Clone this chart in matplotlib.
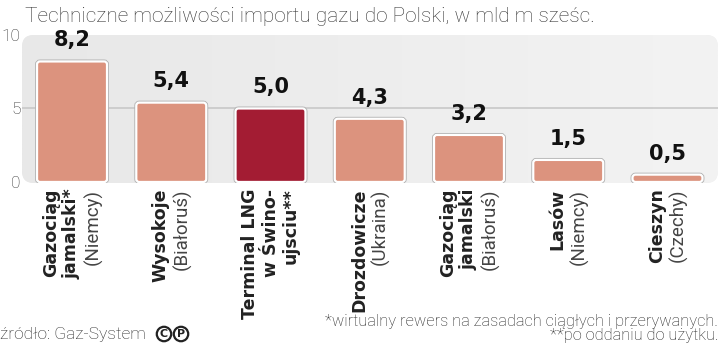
import matplotlib
matplotlib.use("Agg")
import matplotlib.pyplot as plt
import numpy as np
from matplotlib.patches import FancyBboxPatch

# dane
bold_names = ["Gazociąg\njamalski*", "Wysokoje", "Terminal LNG\nw Świno-\nujsciu**",
              "Drozdowicze", "Gazociąg\njamalski", "Lasów", "Cieszyn"]
countries = ["(Niemcy)", "(Białoruś)", "", "(Ukraina)", "(Białoruś)", "(Niemcy)", "(Czechy)"]
values = [8.2, 5.4, 5.0, 4.3, 3.2, 1.5, 0.5]
value_labels = ["8,2", "5,4", "5,0", "4,3", "3,2", "1,5", "0,5"]
highlight = 2
yticks = [0, 5, 10]

light_font = "Roboto"
bold_font = "DejaVu Sans"

fig = plt.figure(figsize=(7.2, 3.47), dpi=100)
ax = fig.add_axes([22/720, 1 - 183/347, 696/720, 148/347])
ax.set_facecolor("none")
for s in ax.spines.values():
    s.set_visible(False)

# tlo panelu
panel = FancyBboxPatch((0, 0), 1, 1, boxstyle="round,pad=0,rounding_size=0.017",
                       mutation_aspect=696/148, transform=ax.transAxes,
                       fc="#eeeeee", ec="none", zorder=0)
ax.add_patch(panel)
grad = np.linspace(0, 1, 256).reshape(1, -1)
im = ax.imshow(grad, extent=(0, 1, 0, 1), transform=ax.transAxes, aspect="auto",
               cmap=matplotlib.colors.LinearSegmentedColormap.from_list("g", ["#e8e8e8", "#f3f3f3"]),
               zorder=0)
im.set_clip_path(panel)

ax.axhline(5, color="#c8c8c8", lw=1.2, zorder=1)

w = 0.705
for i, v in enumerate(values):
    col = "#a31c33" if i == highlight else "#dc937e"
    outer = FancyBboxPatch((i - w/2, 0), w, v, boxstyle="round,pad=0,rounding_size=0.03",
                           mutation_aspect=6.75, fc="none", ec="#b0b0b0", lw=2.8, zorder=2)
    ax.add_patch(outer)
    bar = FancyBboxPatch((i - w/2, 0), w, v, boxstyle="round,pad=0,rounding_size=0.03",
                         mutation_aspect=6.75, fc=col, ec="white", lw=1.6, zorder=3)
    ax.add_patch(bar)
    ax.annotate(value_labels[i], xy=(i, v), xytext=(0, 8), textcoords="offset points",
                ha="center", va="bottom", fontsize=15, fontweight="bold",
                family=bold_font, color="#111111", zorder=4)

ax.set_xlim(-0.504, 6.509)
ax.set_ylim(-0.07, 10)
ax.set_xticks([])
ax.set_yticks(yticks)
ax.set_yticklabels([str(t) for t in yticks], family=light_font, fontweight="light",
                   fontsize=12.5, color="#333333")
ax.tick_params(axis="y", length=0, pad=1)

# podpisy kategorii
p = 15.0
for i in range(len(values)):
    nb = bold_names[i].count("\n") + 1
    L = nb + (1 if countries[i] else 0)
    dxb = ((nb - 1) / 2 - (L - 1) / 2) * p
    ax.annotate(bold_names[i], xy=(i, 0), xycoords=ax.get_xaxis_transform(),
                xytext=(dxb, -4), textcoords="offset points", rotation=90,
                ha="center", va="top", multialignment="right", fontsize=12.5,
                fontweight="bold", family=bold_font, color="#222222",
                linespacing=1.15, annotation_clip=False)
    if countries[i]:
        ax.annotate(countries[i], xy=(i, 0), xycoords=ax.get_xaxis_transform(),
                    xytext=((L - 1) / 2 * p, -4), textcoords="offset points", rotation=90,
                    ha="center", va="top", fontsize=13.5, fontweight="normal",
                    family=light_font, color="#444444", annotation_clip=False)

fig.text(25/720, 1 - 22/347, "Techniczne możliwości importu gazu do Polski, w mld m sześc.",
         family=light_font, fontweight="light", fontsize=15, color="#333333", va="baseline")

fig.text(0, 1 - 339/347, "źródło: Gaz-System", family=light_font, fontweight="light",
         fontsize=12.5, color="#222222", va="baseline")
for k, ch in enumerate(["C", "P"]):
    fig.text((164 + k * 17)/720, 1 - 334/347, ch, ha="center", va="center",
             fontsize=8, fontweight="bold", family=bold_font, color="#222222",
             bbox=dict(boxstyle="circle,pad=0.2", fc="white", ec="#222222", lw=1.6))

fig.text(718/720, 1 - 326/347, "*wirtualny rewers na zasadach ciągłych i przerywanych.",
         family=light_font, fontweight="light", fontsize=11.8, color="#222222",
         ha="right", va="baseline")
fig.text(718/720, 1 - 340/347, "**po oddaniu do użytku.",
         family=light_font, fontweight="light", fontsize=11.8, color="#222222",
         ha="right", va="baseline")

fig.savefig("out.png", dpi=100)
